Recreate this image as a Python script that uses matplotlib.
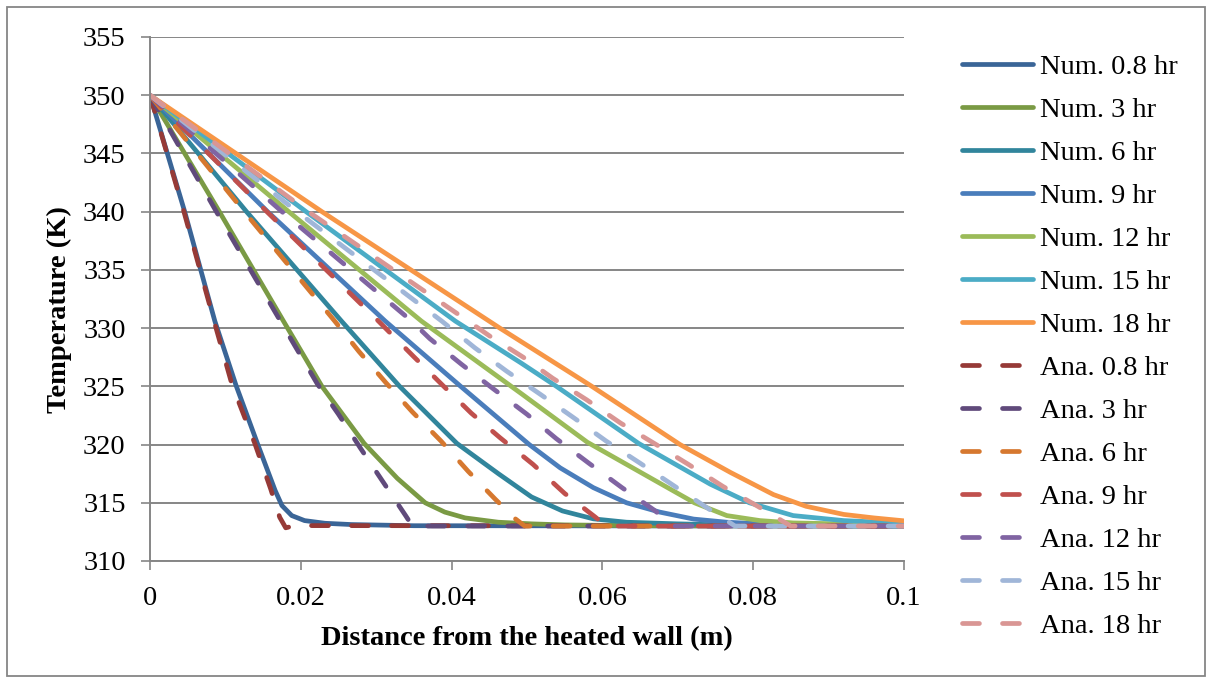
import matplotlib
matplotlib.use("Agg")
import matplotlib.pyplot as plt
from matplotlib.patches import Rectangle

plt.rcParams['font.family'] = ['Liberation Serif', 'DejaVu Serif']
plt.rcParams['lines.scale_dashes'] = False

# ---- numerical solution profiles: distance (m) and temperature (K) ----
x_num_08 = [0, 0.0046, 0.0086, 0.0114, 0.0143, 0.0166, 0.0175, 0.0188, 0.0205, 0.0232, 0.0267, 0.035, 0.1]
T_num_08 = [350, 340, 330.6, 325.1, 320.0, 316.05, 314.76, 313.9, 313.47, 313.24, 313.13, 313.03, 313.0]

x_num_3 = [0, 0.0092, 0.0177, 0.0228, 0.0284, 0.0328, 0.0365, 0.0391, 0.0418, 0.0462, 0.0506, 0.0550, 0.065, 0.1]
T_num_3 = [350, 340, 330.6, 325.0, 320.1, 317.1, 315.0, 314.2, 313.7, 313.33, 313.19, 313.1, 313.03, 313.0]

x_num_6 = [0, 0.0128, 0.0254, 0.0331, 0.0407, 0.0462, 0.0506, 0.0547, 0.0588, 0.0632, 0.0699, 0.080, 0.1]
T_num_6 = [350, 340, 330.6, 325.0, 320.1, 317.5, 315.5, 314.3, 313.62, 313.33, 313.19, 313.05, 313.0]

x_num_9 = [0, 0.0156, 0.0312, 0.0412, 0.0503, 0.0544, 0.0588, 0.0632, 0.0676, 0.0721, 0.0765, 0.0830, 0.1]
T_num_9 = [350, 340, 330.6, 325.0, 320.0, 318.0, 316.3, 315.0, 314.2, 313.6, 313.33, 313.13, 313.02]

x_num_12 = [0, 0.0184, 0.0360, 0.0494, 0.0580, 0.0722, 0.0765, 0.0809, 0.0853, 0.1]
T_num_12 = [350, 340, 330.6, 324.3, 320.2, 315.0, 313.9, 313.47, 313.27, 313.08]

x_num_15 = [0, 0.0207, 0.0405, 0.0491, 0.0539, 0.0648, 0.0743, 0.0795, 0.0853, 0.0920, 0.1]
T_num_15 = [350, 340, 330.6, 327.05, 325.0, 320.1, 316.6, 315.0, 313.9, 313.47, 313.24]

x_num_18 = [0, 0.0228, 0.0464, 0.0586, 0.0703, 0.0770, 0.0827, 0.0870, 0.0920, 0.0960, 0.1]
T_num_18 = [350, 340, 330.0, 325.0, 320.0, 317.6, 315.7, 314.7, 314.0, 313.7, 313.45]

# ---- analytical solution profiles ----
x_ana_08 = [0, 0.0045, 0.0085, 0.0109, 0.0139, 0.0160, 0.0172, 0.0180, 0.0192, 0.1]
T_ana_08 = [350, 340, 330.6, 325.1, 320.1, 316.2, 313.76, 312.85, 313.04, 313.0]

x_ana_3 = [0, 0.0088, 0.0192, 0.0222, 0.0250, 0.0279, 0.0309, 0.0339, 0.0348, 0.1]
T_ana_3 = [350, 340, 328.5, 325.2, 322.6, 319.7, 316.8, 313.9, 313.0, 313.0]

x_ana_6 = [0, 0.0125, 0.0245, 0.0277, 0.0313, 0.0348, 0.0386, 0.0422, 0.0458, 0.0485, 0.0497, 0.1]
T_ana_6 = [350, 340, 330.6, 328.0, 325.3, 322.8, 320.3, 317.7, 315.3, 313.6, 313.0, 313.0]

x_ana_9 = [0, 0.0155, 0.0303, 0.0349, 0.0388, 0.0426, 0.0464, 0.0508, 0.0550, 0.0590, 0.0605, 0.1]
T_ana_9 = [350, 340, 330.6, 327.6, 325.1, 322.7, 320.6, 318.3, 315.8, 313.8, 313.0, 313.0]

x_ana_12 = [0, 0.0175, 0.0347, 0.0371, 0.0413, 0.0455, 0.0500, 0.0539, 0.0582, 0.0626, 0.0668, 0.0695, 0.1]
T_ana_12 = [350, 340, 330.6, 329.1, 326.9, 324.8, 322.6, 320.5, 318.4, 316.3, 314.4, 313.0, 313.0]

x_ana_15 = [0, 0.0195, 0.0387, 0.0431, 0.0473, 0.0518, 0.0562, 0.0605, 0.0650, 0.0694, 0.0739, 0.0776, 0.1]
T_ana_15 = [350, 340, 330.6, 328.3, 326.3, 324.3, 322.3, 320.3, 318.4, 316.5, 314.56, 313.0, 313.0]

x_ana_18 = [0, 0.0210, 0.0422, 0.0451, 0.0495, 0.0534, 0.0579, 0.0624, 0.0670, 0.0714, 0.0760, 0.0806, 0.0850, 0.1]
T_ana_18 = [350, 340, 330.6, 329.3, 327.5, 325.7, 323.85, 321.85, 320.05, 318.3, 316.4, 314.7, 313.0, 313.0]

num_labels = ['Num. 0.8 hr', 'Num. 3 hr', 'Num. 6 hr', 'Num. 9 hr', 'Num. 12 hr', 'Num. 15 hr', 'Num. 18 hr']
ana_labels = ['Ana. 0.8 hr', 'Ana. 3 hr', 'Ana. 6 hr', 'Ana. 9 hr', 'Ana. 12 hr', 'Ana. 15 hr', 'Ana. 18 hr']

x_ticks = [0, 0.02, 0.04, 0.06, 0.08, 0.1]
x_tick_labels = ['0', '0.02', '0.04', '0.06', '0.08', '0.1']
y_ticks = [310, 315, 320, 325, 330, 335, 340, 345, 350, 355]

num_series = [(x_num_08, T_num_08), (x_num_3, T_num_3), (x_num_6, T_num_6), (x_num_9, T_num_9),
              (x_num_12, T_num_12), (x_num_15, T_num_15), (x_num_18, T_num_18)]
ana_series = [(x_ana_08, T_ana_08), (x_ana_3, T_ana_3), (x_ana_6, T_ana_6), (x_ana_9, T_ana_9),
              (x_ana_12, T_ana_12), (x_ana_15, T_ana_15), (x_ana_18, T_ana_18)]

num_colors = ['#3A6597', '#7A9A44', '#31859C', '#4A7DBB', '#9BBB59', '#4BACC6', '#F79646']
ana_colors = ['#963A37', '#604A7B', '#D6782F', '#C0504D', '#8064A2', '#A0B6D8', '#D99694']

W, H = 1212, 683
fig = plt.figure(figsize=(W / 100, H / 100), dpi=100)
ax = fig.add_axes([150 / W, 1 - 561 / H, (904 - 150) / W, (561 - 37) / H])

grid_c = '#868686'
lw = 3.4
for (xs, ts), c, lab in zip(num_series, num_colors, num_labels):
    ax.plot(xs, ts, color=c, lw=lw, label=lab, solid_capstyle='round', solid_joinstyle='round')
for (xs, ts), c, lab in zip(ana_series, ana_colors, ana_labels):
    ax.plot(xs, ts, color=c, lw=lw, label=lab, linestyle=(0, (12.2, 16.6)),
            dash_capstyle='round', dash_joinstyle='round')

ax.set_xlim(0, 0.1)
ax.set_ylim(310, 355)
ax.set_xticks(x_ticks)
ax.set_xticklabels(x_tick_labels)
ax.set_yticks(y_ticks)

ax.yaxis.grid(True, color=grid_c, lw=1.4)
ax.set_axisbelow(True)
for s in ['top', 'right']:
    ax.spines[s].set_visible(False)
for s in ['left', 'bottom']:
    ax.spines[s].set_color(grid_c)
    ax.spines[s].set_linewidth(1.4)

ax.tick_params(axis='both', direction='out', length=6.5, width=1.2, color=grid_c,
               labelsize=20.5, labelcolor='black')
ax.tick_params(axis='y', pad=11)
ax.tick_params(axis='x', pad=11.5)

ax.set_xlabel('Distance from the heated wall (m)', fontsize=20.5, fontweight='bold', labelpad=11)
ax.set_ylabel('Temperature (K)', fontsize=20.5, fontweight='bold')
ax.yaxis.set_label_coords(-0.103, 0.479)

ax.legend(loc='upper left', bbox_to_anchor=(962 / W, 1 - 54 / H), bbox_transform=fig.transFigure,
          frameon=False, fontsize=20.5, handlelength=2.5, handletextpad=0.25,
          labelspacing=0.60, borderpad=0, borderaxespad=0)

fig.patches.append(Rectangle((7 / W, 7 / H), (W - 14) / W, (H - 14) / H, transform=fig.transFigure,
                             fill=False, edgecolor=grid_c, lw=1.3))

fig.savefig('out.png', dpi=100, facecolor='white')
